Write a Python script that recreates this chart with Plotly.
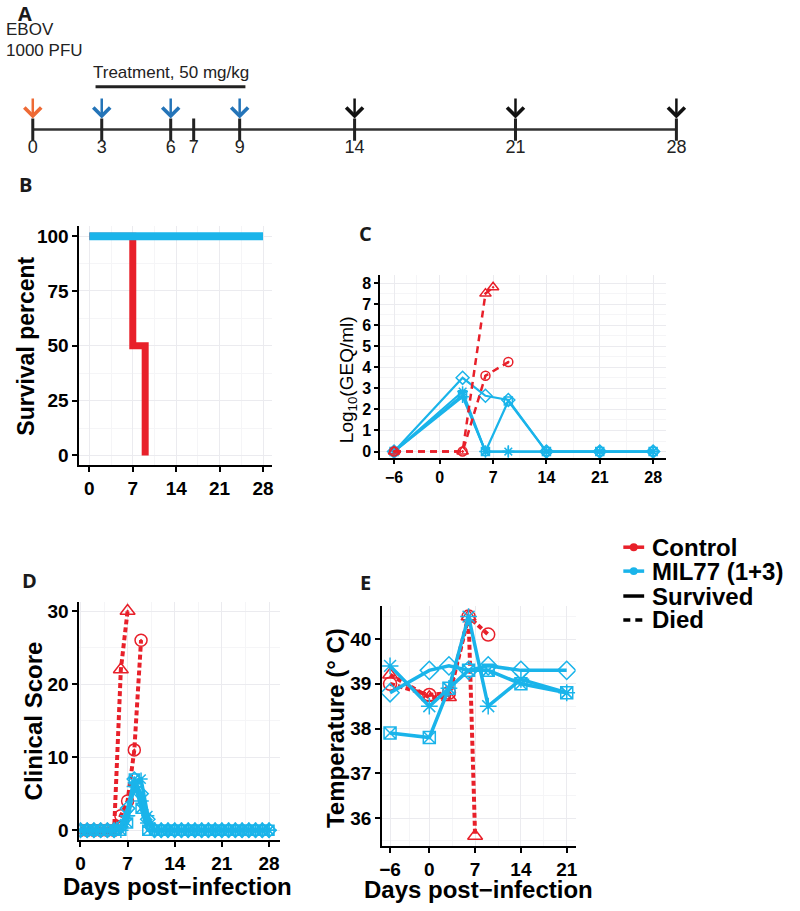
import plotly.graph_objects as go

# --- cores ---
RED = "#E8202A"
BLUE = "#1AB4EA"
ORANGE = "#EE6A35"
DARKBLUE = "#2474B8"

# --- A: linha do tempo ---
timeline_days = [0, 3, 6, 7, 9, 14, 21, 28]
infection_days = [0]
treatment_days = [3, 6, 9]
sampling_days = [14, 21, 28]
treatment_start = 3
treatment_end = 9

# --- B: sobrevivência ---
surv_ctrl_days = [0, 7, 9]
surv_ctrl = [100, 50, 0]
surv_mil_days = [0, 28]
surv_mil = [100, 100]

# --- C: viremia (log10 GEQ/ml) ---
c_ctrl_tri_days = [-6, 3, 6, 7]
c_ctrl_tri = [0, 0, 7.5, 7.8]
c_ctrl_cir_days = [-6, 3, 6, 9]
c_ctrl_cir = [0, 0, 3.6, 4.25]
c_mil_days = [-6, 3, 6, 9, 14, 21, 28]
c_mil_diamond = [0, 3.5, 2.65, 2.45, 0, 0, 0]
c_mil_star = [0, 2.85, 0, 0, 0, 0, 0]
c_mil_square = [0, 2.7, 0, 2.4, 0, 0, 0]
c_mil_plus = [0, 2.6, 0, 0, 0, 0, 0]
c_xticks = [-6, 0, 7, 14, 21, 28]

# --- D: score clínico ---
d_ctrl_tri_days = [0, 1, 2, 3, 4, 5, 6, 7]
d_ctrl_tri = [0, 0, 0, 0, 0, 0, 22, 30]
d_ctrl_cir_days = [0, 1, 2, 3, 4, 5, 6, 7, 8, 9]
d_ctrl_cir = [0, 0, 0, 0, 0, 0, 2, 4, 11, 26]
d_mil_days = [0, 1, 2, 3, 4, 5, 6, 7, 8, 9, 10, 11, 12, 13, 14, 15, 16, 17, 18, 19,
              20, 21, 22, 23, 24, 25, 26, 27, 28]
d_mil_diamond = [0, 0, 0, 0, 0, 0, 0.5, 3, 7, 5, 1.5, 0, 0, 0, 0, 0, 0, 0, 0, 0,
                 0, 0, 0, 0, 0, 0, 0, 0, 0]
d_mil_star = [0, 0, 0, 0, 0, 0, 0.5, 2, 6.5, 7, 2, 0, 0, 0, 0, 0, 0, 0, 0, 0,
              0, 0, 0, 0, 0, 0, 0, 0, 0]
d_mil_square = [0, 0, 0, 0, 0, 0, 0, 1, 7, 3, 0, 0, 0, 0, 0, 0, 0, 0, 0, 0,
                0, 0, 0, 0, 0, 0, 0, 0, 0]
d_mil_plus = [0, 0, 0, 0, 0, 0, 0, 2, 6, 4, 1, 0, 0, 0, 0, 0, 0, 0, 0, 0,
              0, 0, 0, 0, 0, 0, 0, 0, 0]

# --- E: temperatura ---
e_ctrl_tri_days = [-6, 0, 3, 6, 7]
e_ctrl_tri = [39.2, 38.7, 38.7, 40.5, 35.6]
e_ctrl_cir_days = [-6, 0, 3, 6, 9]
e_ctrl_cir = [39.0, 38.75, 38.8, 40.5, 40.1]
e_mil_days = [-6, 0, 3, 6, 9, 14, 21]
e_mil_star = [39.4, 38.5, 38.9, 40.5, 38.5, 39.1, 38.8]
e_mil_diamond = [38.8, 39.3, 39.4, 39.3, 39.4, 39.3, 39.3]
e_mil_square = [37.9, 37.8, 38.9, 39.3, 39.3, 39.0, 38.8]
e_xticks = [-6, 0, 7, 14, 21]

legend_labels = ["Control", "MIL77 (1+3)", "Survived", "Died"]

W, H = 800, 911
BOLD = dict(family="Liberation Sans", color="black", weight="bold")
NARROW = "Liberation Sans Narrow, Liberation Sans"


def px(p):
    return p / W


def py(p):
    return 1 - p / H


fig = go.Figure()


def add(ax, x, y, color, symbol, dash, lw, ms, mlw=1.5, shape="linear"):
    fig.add_trace(go.Scatter(
        x=x, y=y, xaxis="x" + ax, yaxis="y" + ax,
        mode="lines+markers" if symbol else "lines",
        line=dict(color=color, width=lw, dash=dash, shape=shape),
        marker=dict(symbol=symbol or "circle", size=ms, color=color,
                    line=dict(color=color, width=mlw)),
        showlegend=False, hoverinfo="skip"))


# ---------- Painel A ----------
fig.add_trace(go.Scatter(
    x=[timeline_days[0], timeline_days[-1]], y=[129, 129], xaxis="x", yaxis="y",
    mode="lines", line=dict(color="#333333", width=2.5),
    showlegend=False, hoverinfo="skip"))
fig.add_trace(go.Scatter(
    x=timeline_days, y=[129] * len(timeline_days), xaxis="x", yaxis="y",
    mode="markers", marker=dict(symbol="line-ns", size=16, line=dict(color="#222222", width=3)),
    showlegend=False, hoverinfo="skip"))
fig.add_trace(go.Scatter(
    x=timeline_days, y=[148] * len(timeline_days), xaxis="x", yaxis="y",
    mode="text", text=[str(d) for d in timeline_days],
    textfont=dict(family=NARROW, size=18, color="#222222"),
    showlegend=False, hoverinfo="skip"))

annotations = []
for days, col in [(infection_days, ORANGE), (treatment_days, DARKBLUE), (sampling_days, "#111111")]:
    for d in days:
        annotations.append(dict(x=d, y=118, xref="x", yref="y", ax=0, ay=-30,
                                showarrow=True, arrowhead=4, arrowsize=1.3,
                                arrowwidth=2.5, arrowcolor=col, text=" "))

fig.add_shape(type="line", xref="x", yref="y", x0=treatment_start - 0.27,
              x1=treatment_end + 0.25, y0=86, y1=86, line=dict(color="#222222", width=3))
annotations.append(dict(x=(treatment_start + treatment_end) / 2, y=72, xref="x", yref="y",
                        text="Treatment, 50 mg/kg", showarrow=False,
                        font=dict(family=NARROW, size=17, color="#222222")))
annotations.append(dict(x=0, y=29, xref="paper", yref="y", xanchor="left",
                        text="EBOV", showarrow=False,
                        font=dict(family=NARROW, size=17, color="#222222")))
annotations.append(dict(x=0, y=50, xref="paper", yref="y", xanchor="left",
                        text="1000 PFU", showarrow=False,
                        font=dict(family=NARROW, size=17, color="#222222")))

# ---------- Painel B ----------
add("2", surv_ctrl_days, surv_ctrl, RED, None, "solid", 7, 0, shape="hv")
add("2", surv_mil_days, surv_mil, BLUE, None, "solid", 8, 0)

# ---------- Painel C ----------
cd = "7px,5px"
add("3", c_mil_days, c_mil_plus, BLUE, "cross-thin-open", "solid", 2.2, 9)
add("3", c_mil_days, c_mil_square, BLUE, "square-x-open", "solid", 2.2, 8)
add("3", c_mil_days, c_mil_star, BLUE, "asterisk-open", "solid", 2.2, 9)
add("3", c_mil_days, c_mil_diamond, BLUE, "diamond-open", "solid", 2.2, 10)
add("3", c_ctrl_tri_days, c_ctrl_tri, RED, "triangle-up-open-dot", cd, 2.5, 10)
add("3", c_ctrl_cir_days, c_ctrl_cir, RED, "circle-open-dot", cd, 2.5, 9)

# ---------- Painel D ----------
dd = "5px,3px"
add("4", d_ctrl_tri_days, d_ctrl_tri, RED, "triangle-up-open-dot", dd, 4, 13)
add("4", d_ctrl_cir_days, d_ctrl_cir, RED, "circle-open-dot", dd, 4, 12)
add("4", d_mil_days, d_mil_plus, BLUE, "cross-thin-open", "solid", 3.5, 11)
add("4", d_mil_days, d_mil_square, BLUE, "square-x-open", "solid", 3.5, 10)
add("4", d_mil_days, d_mil_star, BLUE, "asterisk-open", "solid", 3.5, 11)
add("4", d_mil_days, d_mil_diamond, BLUE, "diamond-open", "solid", 3.5, 11)

# ---------- Painel E ----------
add("5", e_ctrl_tri_days, e_ctrl_tri, RED, "triangle-up-open", dd, 4, 13)
add("5", e_ctrl_cir_days, e_ctrl_cir, RED, "circle-open", dd, 4, 13)
add("5", e_mil_days, e_mil_square, BLUE, "square-x-open", "solid", 3.5, 12)
add("5", e_mil_days, e_mil_diamond, BLUE, "diamond-open", "solid", 3.5, 14)
add("5", e_mil_days, e_mil_star, BLUE, "asterisk-open", "solid", 3.5, 14)


def axis(domain, rng, tickvals, minorvals, size, anchor, lw=2, ticklen=5):
    return dict(domain=domain, range=rng, tickmode="array", tickvals=tickvals,
                ticktext=[str(v).replace("-", "\u2212") for v in tickvals],
                showline=True, linecolor="black", linewidth=lw, ticks="outside",
                ticklen=ticklen, tickwidth=lw, tickcolor="black", showgrid=True,
                gridcolor="#EBEBEF", gridwidth=1, zeroline=False, anchor=anchor,
                tickfont=dict(size=size, **BOLD), fixedrange=True,
                minor=dict(tickvals=minorvals, showgrid=True, gridcolor="#F5F5F7", gridwidth=1))


layout_axes = dict(
    xaxis=dict(domain=[0, 1], range=[-29 / 23.16, (W - 29) / 23.16], visible=False,
               anchor="y", fixedrange=True),
    yaxis=dict(domain=[py(165), 1], range=[165, 0], visible=False, anchor="x", fixedrange=True),
    # B
    xaxis2=axis([px(76), px(270)], [-1.6, 29.44], [0, 7, 14, 21, 28],
                [3.5, 10.5, 17.5, 24.5], 19, "y2"),
    yaxis2=axis([py(466), py(226)], [-4.55, 104.5], [0, 25, 50, 75, 100],
                [12.5, 37.5, 62.5, 87.5], 19, "x2"),
    # C
    xaxis3=axis([px(379), px(667)], [-7.82, 29.69], c_xticks,
                [-3, 3.5, 10.5, 17.5, 24.5], 16, "y3", lw=1.5, ticklen=4),
    yaxis3=axis([py(459), py(275)], [-0.33, 8.38], [0, 1, 2, 3, 4, 5, 6, 7, 8],
                [0.5, 1.5, 2.5, 3.5, 4.5, 5.5, 6.5, 7.5], 16, "x3", lw=1.5, ticklen=4),
    # D
    xaxis4=axis([px(76), px(278)], [-0.15, 29.62], [0, 7, 14, 21, 28],
                [3.5, 10.5, 17.5, 24.5], 19, "y4"),
    yaxis4=axis([py(842), py(603)], [-1.36, 31.23], [0, 10, 20, 30],
                [5, 15, 25], 19, "x4"),
    # E
    xaxis5=axis([px(381), px(576)], [-7.21, 22.37], e_xticks,
                [-3, 3.5, 10.5, 17.5], 19, "y5"),
    yaxis5=axis([py(848), py(607)], [35.374, 40.737], [36, 37, 38, 39, 40],
                [35.5, 36.5, 37.5, 38.5, 39.5, 40.5], 19, "x5"),
)

# letras dos painéis
for letter, x, y in [("A", 21, 13), ("B", 22, 184), ("C", 364, 233), ("D", 26, 581), ("E", 364, 583)]:
    annotations.append(dict(x=px(x), y=py(y), xref="paper", yref="paper", text=letter,
                            showarrow=False, xanchor="center", yanchor="middle",
                            font=dict(family="Open Sans", size=20, color="#1a1a1a", weight="bold")))

# títulos dos eixos
annotations += [
    dict(x=px(22), y=py(346), text="Survival percent", textangle=-90,
         font=dict(size=23, **BOLD)),
    dict(x=px(346), y=py(380), text="Log<sub>10</sub>(GEQ/ml)", textangle=-90,
         font=dict(family="Liberation Sans", size=19, color="black")),
    dict(x=px(30), y=py(722), text="Clinical Score", textangle=-90,
         font=dict(size=24, **BOLD)),
    dict(x=px(175), y=py(888), text="Days post\u2212infection",
         font=dict(size=24, **BOLD)),
    dict(x=px(334), y=py(729), text="Temperature (\u00b0 C)", textangle=-90,
         font=dict(size=24, **BOLD)),
    dict(x=px(478), y=py(891), text="Days post\u2212infection",
         font=dict(size=24, **BOLD)),
]
for a in annotations[-6:]:
    a.update(xref="paper", yref="paper", showarrow=False, xanchor="center", yanchor="middle")

# legenda manual
leg_rows = [548, 572, 597, 621]
leg_colors = [RED, BLUE, "black", "black"]
leg_dash = ["solid", "solid", "solid", "7px,5px"]
for lab, yy, col, ds in zip(legend_labels, leg_rows, leg_colors, leg_dash):
    fig.add_shape(type="line", xref="paper", yref="paper", x0=px(624), x1=px(645),
                  y0=py(yy), y1=py(yy), line=dict(color=col, width=3.5, dash=ds))
    annotations.append(dict(x=px(651), y=py(yy), xref="paper", yref="paper", text=lab,
                            showarrow=False, xanchor="left", yanchor="middle",
                            font=dict(size=24, **BOLD)))
for yy, col in zip(leg_rows[:2], leg_colors[:2]):
    fig.add_shape(type="circle", xref="paper", yref="paper", x0=px(630.5), x1=px(638.5),
                  y0=py(yy + 4), y1=py(yy - 4), line=dict(color=col, width=0), fillcolor=col)

fig.update_layout(
    width=W, height=H, margin=dict(l=0, r=0, t=0, b=0),
    paper_bgcolor="white", plot_bgcolor="white",
    annotations=annotations, showlegend=False, hovermode=False,
    **layout_axes,
)

# a página tem margem de 8px por padrão; remove para alinhar com a janela
fig.write_html("out.html", config={"displayModeBar": False},
               post_script="document.body.style.margin='0px';")
